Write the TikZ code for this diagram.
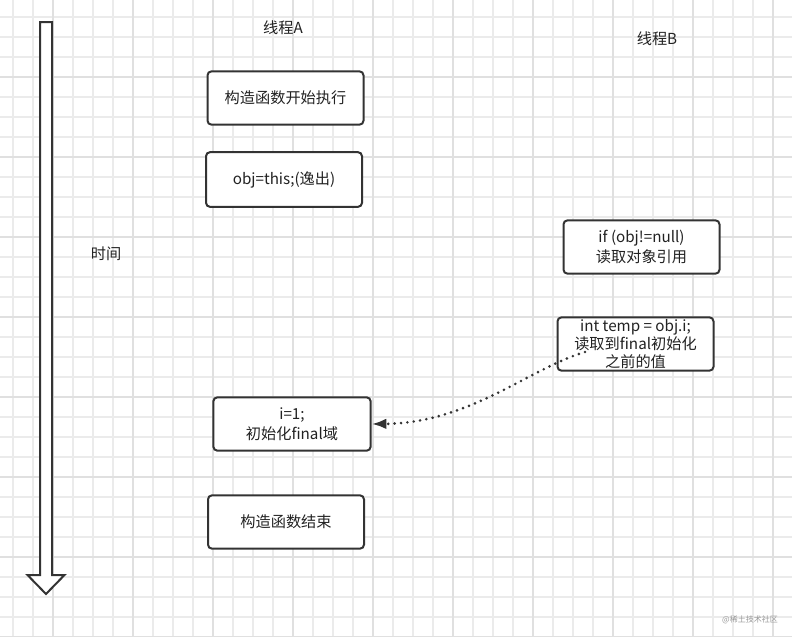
\documentclass[tikz,border=0pt]{standalone}
\usepackage{fontspec}
\newfontfamily\cjkfont{Noto Sans CJK SC}
\usepackage{xcolor}
\usetikzlibrary{arrows.meta}
\definecolor{gridminor}{HTML}{EBEBEB}
\definecolor{gridmajor}{HTML}{E0E0E0}
\definecolor{boxline}{HTML}{333333}
\definecolor{textcol}{HTML}{222222}

\begin{document}
\begin{tikzpicture}[x=0.75pt,y=-0.75pt,
		stepbox/.style={draw=boxline,line width=1.5pt,rounded corners=3pt,fill=white,
			minimum width=117pt,minimum height=40pt,inner sep=0pt,align=center,
			font=\cjkfont\fontsize{11.4}{15}\selectfont,text=textcol},
		lbl/.style={font=\cjkfont\fontsize{11.4}{13}\selectfont,text=textcol},
		readflow/.style={draw=boxline,line width=2.2pt,line cap=round,
			dash pattern=on 0pt off 4.8pt,-{Latex[length=11pt,width=8pt]}}]
		\useasboundingbox (0,0) rectangle (792,636);
		\fill[white] (0,0) rectangle (792,636);
		\foreach \x in {13,33,...,793}
			\draw[gridminor,line width=0.8pt] (\x,0) -- (\x,636);
		\foreach \y in {17,37,...,637}
			\draw[gridminor,line width=0.8pt] (0,\y) -- (792,\y);
		\foreach \x in {53,133,...,793}
			\draw[gridmajor,line width=0.8pt] (\x,0) -- (\x,636);
		\foreach \y in {77,157,...,637}
			\draw[gridmajor,line width=0.8pt] (0,\y) -- (792,\y);
		\draw[boxline,line width=1.5pt,fill=white,line join=miter]
			(40,22) -- (52,22) -- (52,575) -- (64.5,575) -- (46,594) -- (27.5,575) -- (40,575) -- cycle;
		\node[lbl] (tA) at (283,28) {线程A};
		\node[lbl] (tB) at (657,39) {线程B};
		\node[lbl] (time) at (106,254) {时间};
		\node[stepbox] (ctorstart) at (285.5,98) {构造函数开始执行};
		\node[stepbox,minimum height=41pt] (escape) at (284,179.5) {obj=this;(逸出)};
		\node[stepbox] (readref) at (641.5,247) {if (obj!=null)\\读取对象引用};
		\node[stepbox,font=\cjkfont\fontsize{11.4}{13.5}\selectfont] (readval) at (635.5,344) {int temp = obj.i;\\读取到final初始化\\之前的值};
		\node[stepbox,minimum width=118pt] (initi) at (292,424) {i=1;\\初始化final域};
		\node[stepbox] (ctorend) at (286,522) {构造函数结束};
		\coordinate (rd) at (585,352);
		\draw[readflow] (rd) .. controls (530,368) and (470,423) .. (initi.east);
		\node[font=\cjkfont\fontsize{6}{7}\selectfont,text=gray!80] (mark) at (750,620) {@稀土技术社区};
	\end{tikzpicture}
\end{document}
